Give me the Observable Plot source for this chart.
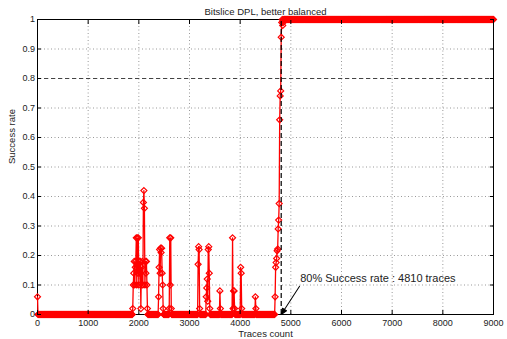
<!DOCTYPE html>
<html>
<head>
<meta charset="utf-8">
<script src="https://cdn.jsdelivr.net/npm/d3@7"></script>
<script src="https://cdn.jsdelivr.net/npm/@observablehq/plot@0.6"></script>
<style>
  html, body { margin: 0; padding: 0; background: #fff; }
</style>
</head>
<body>
<div id="chart"></div>
<script>
// Success rate of the attack vs. number of traces (one sample every 10 traces)
const titleText = "Bitslice DPL, better balanced";
const xLabel = "Traces count";
const yLabel = "Success rate";

const traceStep = 10;
const traceMax = 9000;

// Plateau levels: 0 before the switch, 1 from the switch on
const levelBefore = 0;
const levelAfter = 1;
const levelSwitchTraces = 4830;

// Samples that leave the plateau
const sampleTraces = [
  0,
  1880, 1890, 1900, 1910, 1920, 1930, 1940, 1950, 1960, 1970, 1980, 1990,
  2000, 2010, 2020, 2030, 2040, 2050, 2060, 2070, 2080, 2090, 2100, 2110,
  2120, 2130, 2140, 2150, 2160, 2170,
  2390, 2400, 2410, 2420, 2430, 2440, 2450, 2460, 2470, 2480,
  2600, 2610, 2620, 2630, 2640,
  3170, 3180, 3190, 3200,
  3330, 3340, 3350, 3360, 3370, 3380, 3390, 3400,
  3600, 3610,
  3850, 3860, 3870, 3880, 3890,
  4010, 4020, 4030,
  4300, 4310,
  4690, 4700, 4710, 4720, 4730, 4740, 4750, 4760, 4770, 4780, 4790, 4800,
  4810, 4820, 4840, 4850
];
const sampleRates = [
  0.06,
  0.02, 0.10, 0.14, 0.18, 0.10, 0.16, 0.18, 0.26, 0.10, 0.26, 0.14, 0.26,
  0.10, 0.18, 0.14, 0.18, 0.02, 0.16, 0.10, 0.18, 0.10, 0.38, 0.42, 0.36,
  0.10, 0.18, 0.14, 0.18, 0.10, 0.02,
  0.06, 0.16, 0.22, 0.14, 0.225, 0.21, 0.225, 0.14, 0.10, 0.02,
  0.02, 0.26, 0.10, 0.26, 0.02,
  0.17, 0.23, 0.22, 0.02,
  0.06, 0.09, 0.12, 0.045, 0.22, 0.23, 0.14, 0.02,
  0.08, 0.02,
  0.26, 0.02, 0.08, 0.08, 0.02,
  0.16, 0.14, 0.02,
  0.06, 0.02,
  0.06, 0.16, 0.176, 0.19, 0.216, 0.222, 0.29, 0.32, 0.376, 0.66, 0.741, 0.758,
  0.94, 0.99, 0.98, 0.99
];

// Threshold annotation
const thresholdRate = 0.8;
const thresholdTraces = 4810;
const thresholdText = "80% Success rate : 4810 traces";

// Tick values
const xTicks = [0, 1000, 2000, 3000, 4000, 5000, 6000, 7000, 8000, 9000];
const yTicks = [0, 0.1, 0.2, 0.3, 0.4, 0.5, 0.6, 0.7, 0.8, 0.9, 1];

// Assemble the series
const sampleMap = new Map(sampleTraces.map((t, i) => [t, sampleRates[i]]));
const series = d3.range(0, traceMax + 1, traceStep).map(t => ({
  traces: t,
  rate: sampleMap.has(t) ? sampleMap.get(t) : (t < levelSwitchTraces ? levelBefore : levelAfter)
}));

// Arrow with a filled head
const arrowShape = {
  draw(context, l) {
    const h = 6, w = 2.4;
    context.moveTo(0, 0);
    context.lineTo(0, -l + h);
    context.moveTo(0, -l);
    context.lineTo(-w, -l + h);
    context.lineTo(w, -l + h);
    context.closePath();
  }
};

const marker = [{traces: thresholdTraces, rate: 0}];

const chart = Plot.plot({
  width: 507,
  height: 339,
  marginLeft: 37,
  marginRight: 14,
  marginTop: 19,
  marginBottom: 25,
  style: {fontFamily: "'Liberation Sans', Arial, Helvetica, sans-serif", fontSize: "9px", color: "#222", background: "#fff"},
  x: {domain: [0, traceMax]},
  y: {domain: [0, 1]},
  marks: [
    Plot.gridX(xTicks, {stroke: "#999", strokeOpacity: 1, strokeDasharray: "1,2.5"}),
    Plot.gridY(yTicks, {stroke: "#999", strokeOpacity: 1, strokeDasharray: "1,2.5"}),
    Plot.frame({stroke: "#000"}),
    Plot.ruleY([thresholdRate], {stroke: "#444", strokeDasharray: "4,3"}),
    Plot.line(series, {x: "traces", y: "rate", stroke: "#ff0000", strokeWidth: 1.3}),
    Plot.dot(series, {x: "traces", y: "rate", symbol: "diamond2", r: 2.7, stroke: "#ff0000", strokeWidth: 1.2}),
    Plot.ruleX([thresholdTraces], {y1: 0, y2: 1, stroke: "#000", strokeWidth: 1.2, strokeDasharray: "5,3"}),
    Plot.axisX(xTicks, {anchor: "bottom", tickSize: -4, tickPadding: 9, tickFormat: d => String(d), label: null, stroke: "#000"}),
    Plot.axisX(xTicks, {anchor: "top", tickSize: -4, tickFormat: () => "", label: null, stroke: "#000"}),
    Plot.axisY(yTicks, {anchor: "left", tickSize: -4, tickPadding: 6.5, tickFormat: d => String(d), label: null, stroke: "#000"}),
    Plot.axisY(yTicks, {anchor: "right", tickSize: -4, tickFormat: () => "", label: null, stroke: "#000"}),
    Plot.vector(marker, {x: "traces", y: "rate", length: 33.7, rotate: 213, anchor: "end", shape: arrowShape, stroke: "#000", fill: "#000", strokeWidth: 1}),
    Plot.text(marker, {x: "traces", y: "rate", text: () => thresholdText, dx: 19, dy: -36, textAnchor: "start", fontSize: 11, fill: "#222"}),
    Plot.text([titleText], {frameAnchor: "top", lineAnchor: "middle", dy: -7.5, fontSize: 9.5, fill: "#222"}),
    Plot.text([xLabel], {frameAnchor: "bottom", lineAnchor: "middle", dy: 19.5, fontSize: 9.5, fill: "#222"}),
    Plot.text([yLabel], {frameAnchor: "left", lineAnchor: "middle", rotate: -90, dx: -25.5, dy: -3, fontSize: 9.5, fill: "#222"})
  ]
});

document.getElementById("chart").appendChild(chart);
</script>
</body>
</html>
